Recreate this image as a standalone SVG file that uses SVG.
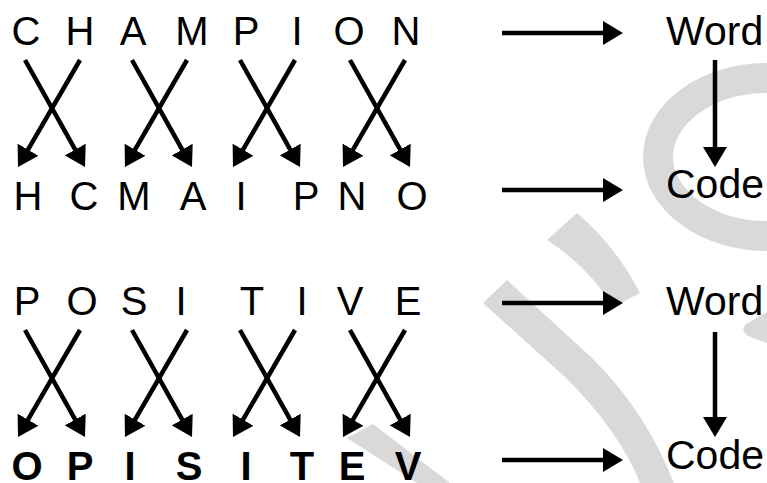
<svg xmlns="http://www.w3.org/2000/svg" width="767" height="483" viewBox="0 0 767 483">
<defs>
<style>
.t{font-family:"Liberation Sans",Arial,sans-serif;font-size:40px;fill:#000;text-anchor:middle}
.b{font-weight:bold}
.lbl{font-family:"Liberation Sans",Arial,sans-serif;font-size:41px;fill:#000}
.ln{stroke:#000;stroke-width:4.5;fill:none;marker-end:url(#ah)}
.wm{fill:#d9d9d9}
</style>
<marker id="ah" markerUnits="userSpaceOnUse" markerWidth="20" markerHeight="24" refX="2" refY="12" orient="auto">
<path d="M0,0 L20,12 L0,24 z" fill="#000"/>
</marker>
</defs>
<rect width="767" height="483" fill="#fff"/>
<g id="watermark">
<ellipse cx="768" cy="157" rx="110" ry="79" fill="none" stroke="#d9d9d9" stroke-width="30"/>
<path class="wm" d="M547,240 L577,213 Q615,245 640,293 L613,307 Q590,268 547,240 Z"/>
<path class="wm" d="M483,303 L507,280 L592,358 Q645,410 674,483 L640,483 Q620,432 566,378 Z"/>
<path class="wm" d="M347,438 L373,424 L450,483 L417,483 Z"/>
<path class="wm" d="M767,312 L746,324 Q740,330 748,336 L767,343 Z"/>
</g>
<g id="word1">
<text class="t" x="26" y="45">C</text><text class="t" x="80" y="45">H</text><text class="t" x="133" y="45">A</text><text class="t" x="192" y="45">M</text><text class="t" x="246" y="45">P</text><text class="t" x="297" y="45">I</text><text class="t" x="349" y="45">O</text><text class="t" x="406" y="45">N</text>
</g>
<g id="code1">
<text class="t" x="28" y="210">H</text><text class="t" x="84" y="210">C</text><text class="t" x="134" y="210">M</text><text class="t" x="193" y="210">A</text><text class="t" x="241" y="210">I</text><text class="t" x="306" y="210">P</text><text class="t" x="352" y="210">N</text><text class="t" x="412" y="210">O</text>
</g>
<g id="word2">
<text class="t" x="27" y="315">P</text><text class="t" x="82" y="315">O</text><text class="t" x="134" y="315">S</text><text class="t" x="181" y="315">I</text><text class="t" x="252" y="315">T</text><text class="t" x="302" y="315">I</text><text class="t" x="350" y="315">V</text><text class="t" x="408" y="315">E</text>
</g>
<g id="code2">
<text class="t b" x="27" y="480">O</text><text class="t b" x="80" y="480">P</text><text class="t b" x="130" y="480">I</text><text class="t b" x="189" y="480">S</text><text class="t b" x="246" y="480">I</text><text class="t b" x="302" y="480">T</text><text class="t b" x="352" y="480">E</text><text class="t b" x="408" y="480">V</text>
</g>
<g id="label-word1"><text class="lbl" x="666" y="45">Word</text></g>
<g id="label-code1"><text class="lbl" x="666" y="198">Code</text></g>
<g id="label-word2"><text class="lbl" x="666" y="315">Word</text></g>
<g id="label-code2"><text class="lbl" x="666" y="469">Code</text></g>
<g id="connectors">
<line class="ln" x1="25" y1="60" x2="76.2" y2="151.3"/><line class="ln" x1="80" y1="60" x2="27" y2="151.4"/>
<line class="ln" x1="132" y1="60" x2="183.2" y2="151.3"/><line class="ln" x1="187" y1="60" x2="134" y2="151.4"/>
<line class="ln" x1="240" y1="60" x2="291.2" y2="151.3"/><line class="ln" x1="295" y1="60" x2="242" y2="151.4"/>
<line class="ln" x1="350" y1="60" x2="401.2" y2="151.3"/><line class="ln" x1="405" y1="60" x2="352" y2="151.4"/>
<line class="ln" x1="25" y1="330" x2="76.2" y2="421.3"/><line class="ln" x1="80" y1="330" x2="27" y2="421.4"/>
<line class="ln" x1="132" y1="330" x2="183.2" y2="421.3"/><line class="ln" x1="187" y1="330" x2="134" y2="421.4"/>
<line class="ln" x1="240" y1="330" x2="291.2" y2="421.3"/><line class="ln" x1="295" y1="330" x2="242" y2="421.4"/>
<line class="ln" x1="350" y1="330" x2="401.2" y2="421.3"/><line class="ln" x1="405" y1="330" x2="352" y2="421.4"/>
<line class="ln" x1="502" y1="33" x2="605" y2="33"/>
<line class="ln" x1="502" y1="190" x2="605" y2="190"/>
<line class="ln" x1="502" y1="303" x2="605" y2="303"/>
<line class="ln" x1="502" y1="460" x2="605" y2="460"/>
<line class="ln" x1="715" y1="60" x2="715" y2="149"/>
<line class="ln" x1="715" y1="332" x2="715" y2="419"/>
</g>
</svg>
